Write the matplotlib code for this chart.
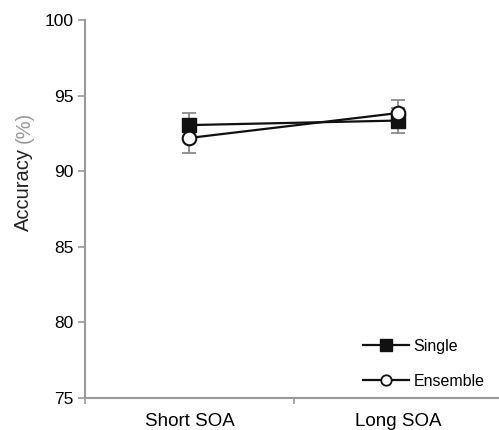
import matplotlib
matplotlib.use("Agg")
from matplotlib import pyplot as plt

plt.rcParams['font.family'] = ['Liberation Sans', 'DejaVu Sans']

conditions = ['Short SOA', 'Long SOA']
single = [93.05, 93.35]
single_err = [0.8, 0.8]
ensemble = [92.2, 93.85]
ensemble_err = [1.0, 0.85]

grey = '#999999'

fig = plt.figure(figsize=(4.99, 4.30), dpi=100)
ax = fig.add_axes([0.1703, 0.0744, 0.8377, 0.8791])

x = list(range(len(conditions)))

# error bars first so markers sit on top
ax.errorbar(x, single, yerr=single_err, fmt='none', ecolor='#8a8a8a',
            elinewidth=1.3, capsize=5, capthick=1.3, zorder=1)
ax.errorbar(x, ensemble, yerr=ensemble_err, fmt='none', ecolor='#8a8a8a',
            elinewidth=1.3, capsize=5, capthick=1.3, zorder=1)

ax.plot(x, single, color='#111111', lw=1.6, marker='s', ms=10,
        mfc='#111111', mec='#111111', zorder=3)
ax.plot(x, ensemble, color='#111111', lw=1.6, marker='o', ms=9.8,
        mfc='white', mec='#111111', mew=1.5, zorder=4)

ax.set_ylim(75, 100)
ax.set_yticks([75, 80, 85, 90, 95, 100])
ax.set_xlim(-0.5, 1.5)
ax.set_xticks([0, 1])
ax.set_xticklabels(conditions, fontsize=13.5)
ax.set_xticks([-0.5, 0.5], minor=True)
ax.tick_params(axis='x', which='major', length=0, pad=10.5)
ax.tick_params(axis='x', which='minor', length=4, color=grey, width=1.2, direction='out')
ax.tick_params(axis='y', length=5, color=grey, width=1.2, labelsize=12.5, pad=3)

for s in ['top', 'right']:
    ax.spines[s].set_visible(False)
for s in ['left', 'bottom']:
    ax.spines[s].set_color(grey)
    ax.spines[s].set_linewidth(1.5)

# y label, with the unit in grey
lab = fig.text(0.048, 1 - 231 / 430, 'Accuracy', rotation=90, ha='center',
               va='bottom', fontsize=14.5, color='#222222')
fig.canvas.draw()
ext = lab.get_window_extent(fig.canvas.get_renderer())
fig.text(0.048, (ext.y1 + 5) / 430, '(%)', rotation=90, ha='center', va='bottom',
         fontsize=14.5, color=grey)

# legend
ax.plot([], [], color='#111111', lw=1.6, marker='s', ms=8, mfc='#111111',
        mec='#111111', label='Single')
ax.plot([], [], color='#111111', lw=1.6, marker='o', ms=7.5, mfc='white',
        mec='#111111', mew=1.3, label='Ensemble')
handles, labels = ax.get_legend_handles_labels()
ax.legend(handles[-2:], labels[-2:], loc='lower right', bbox_to_anchor=(0.99, -0.014),
          frameon=False, fontsize=11.5, handlelength=2.9, handletextpad=0.25,
          labelspacing=1.25)

fig.savefig('out.png', dpi=100)
